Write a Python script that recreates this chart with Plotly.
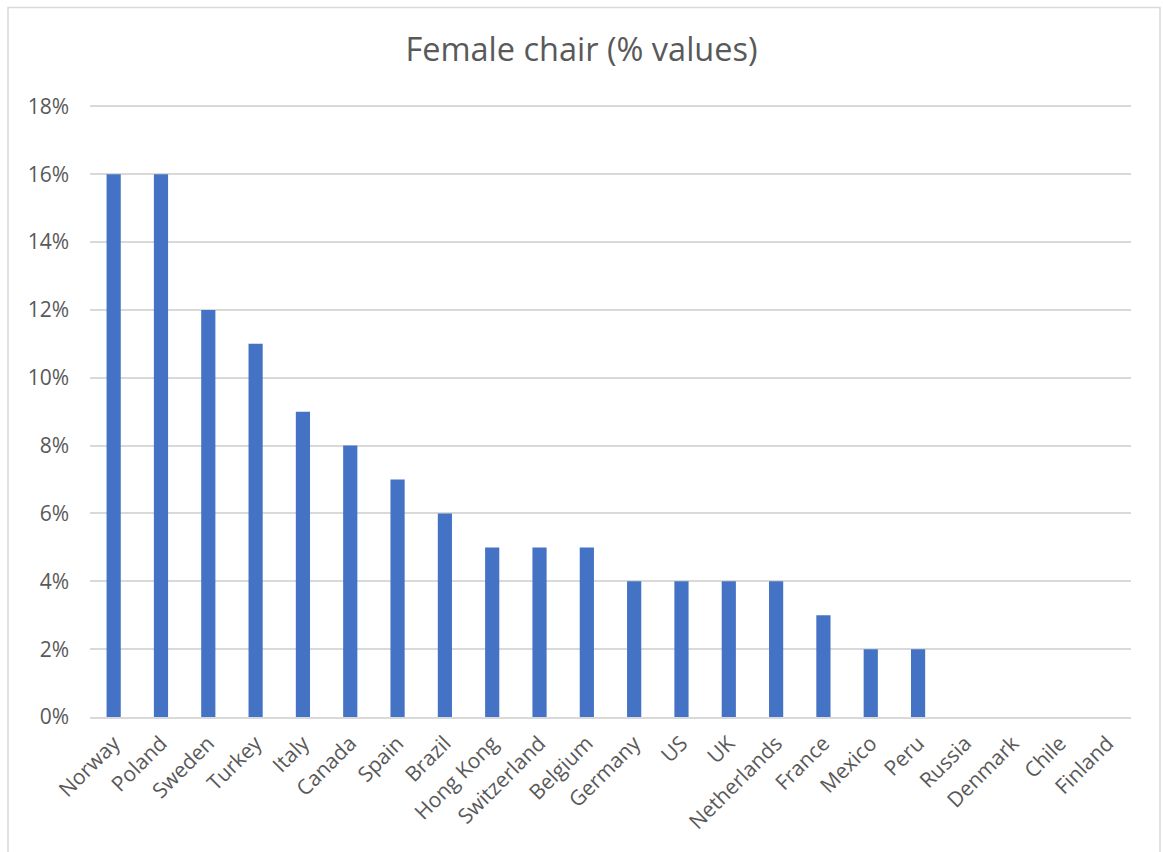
import plotly.graph_objects as go

countries = ["Norway", "Poland", "Sweden", "Turkey", "Italy", "Canada", "Spain",
             "Brazil", "Hong Kong", "Switzerland", "Belgium", "Germany", "US", "UK",
             "Netherlands", "France", "Mexico", "Peru", "Russia", "Denmark", "Chile",
             "Finland"]
female_chair = [0.16, 0.16, 0.12, 0.11, 0.09, 0.08, 0.07, 0.06, 0.05, 0.05, 0.05,
                0.04, 0.04, 0.04, 0.04, 0.03, 0.02, 0.02, 0.0, 0.0, 0.0, 0.0]
y_ticks = [0, 0.02, 0.04, 0.06, 0.08, 0.10, 0.12, 0.14, 0.16, 0.18]

FONT = "Open Sans, Segoe UI, sans-serif"
TEXT = "#595959"
Y_MAX = 0.181

fig = go.Figure(go.Bar(
    x=countries, y=female_chair,
    marker=dict(color="#4472C4", line=dict(width=0)),
    width=0.3,
))

# plot area in pixels; top edge leaves a little room above the 18% gridline
L, R, B = 90, 1131, 717
T = B - (B - 106) * Y_MAX / 0.18
def px_x(v):
    return (v - L) / (R - L)
def px_y(v):
    return (B - v) / (B - T)

# outer chart border
fig.add_shape(type="rect", xref="paper", yref="paper",
              x0=px_x(8), x1=px_x(1160), y0=px_y(860), y1=px_y(7),
              line=dict(color="#d9d9d9", width=1.5), fillcolor="rgba(0,0,0,0)",
              layer="below")

fig.update_layout(
    width=1163, height=852,
    margin=dict(l=L, r=1163 - R, t=T, b=852 - B),
    paper_bgcolor="white", plot_bgcolor="white",
    title=dict(text="Female chair (% values)", x=0.5, xanchor="center",
               y=1 - 50 / 852, yanchor="middle",
               font=dict(family=FONT, size=32.5, color=TEXT)),
    font=dict(family=FONT, color=TEXT, size=21),
    showlegend=False,
    bargap=0.7,
)
fig.update_yaxes(range=[0, Y_MAX], tickvals=y_ticks, tickformat=".0%",
                 showgrid=True, gridcolor="#d9d9d9", gridwidth=1.5,
                 zeroline=False, showline=False, ticks="", ticklen=0,
                 ticklabelstandoff=20,
                 tickfont=dict(size=21, color=TEXT))
fig.update_xaxes(tickangle=-45, showline=True, linecolor="#d9d9d9", linewidth=1.5,
                 ticks="", ticklabelstandoff=4,
                 tickfont=dict(size=21, color=TEXT), showgrid=False)

fig.write_html("out.html")
